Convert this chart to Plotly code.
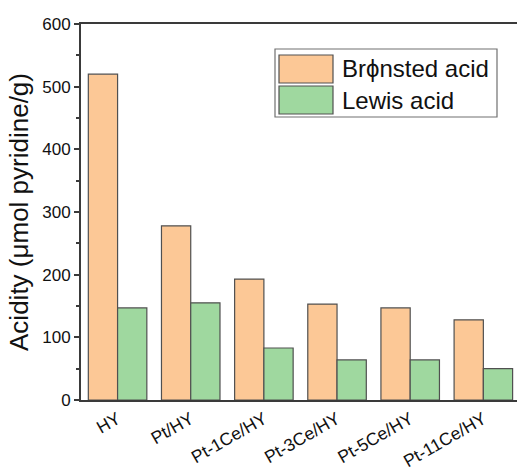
import plotly.graph_objects as go

# Acid site amounts per catalyst (µmol pyridine / g)
catalysts = ["HY", "Pt/HY", "Pt-1Ce/HY", "Pt-3Ce/HY", "Pt-5Ce/HY", "Pt-11Ce/HY"]
bronsted = [520, 278, 193, 153, 147, 128]
lewis = [147, 155, 83, 64, 64, 50]
series_names = ["Brϕnsted acid", "Lewis acid"]
y_ticks = [0, 100, 200, 300, 400, 500, 600]

FONT = "Liberation Sans, Arial, sans-serif"
COL_B = "#FCC896"
COL_L = "#9FD89F"
EDGE = "#505050"

fig = go.Figure()
for name, vals, col in [(series_names[0], bronsted, COL_B), (series_names[1], lewis, COL_L)]:
    fig.add_trace(go.Bar(
        x=catalysts, y=vals, name=name,
        marker=dict(color=col, line=dict(color=EDGE, width=1.2)),
        showlegend=False,
    ))

fig.update_layout(
    width=518, height=471,
    margin=dict(l=81, r=1, t=24, b=71),
    paper_bgcolor="white", plot_bgcolor="white",
    barmode="group", bargap=0.2, bargroupgap=0,
    font=dict(family=FONT, color="#111", size=17),
)

fig.update_xaxes(
    range=[-0.5, 5.46], automargin=False,
    showline=True, linecolor="#3a3a3a", linewidth=2, mirror=True,
    ticks="", tickangle=-30, tickfont=dict(size=17.5),
    showgrid=False,
)
fig.update_yaxes(
    range=[0, 600], tickvals=y_ticks, automargin=False,
    showline=True, linecolor="#3a3a3a", linewidth=2,
    ticks="outside", ticklen=5, tickwidth=2, tickcolor="#3a3a3a",
    minor=dict(dtick=50, ticks="outside", ticklen=3, tickwidth=2, tickcolor="#3a3a3a"),
    tickfont=dict(size=17),
    title=dict(text="Acidity (μmol pyridine/g)", font=dict(size=26), standoff=6),
    showgrid=False, zeroline=False,
)

# Legend box drawn with shapes and text
fig.add_shape(type="rect", xref="paper", yref="paper",
              x0=(275 - 81) / 436, x1=(497 - 81) / 436,
              y0=(400 - 117) / 376, y1=(400 - 49) / 376,
              line=dict(color="#707070", width=1.2), fillcolor="white")
for i, (name, col) in enumerate(zip(series_names, [COL_B, COL_L])):
    top = 55 + i * 31
    fig.add_shape(type="rect", xref="paper", yref="paper",
                  x0=(279 - 81) / 436, x1=(333 - 81) / 436,
                  y0=(400 - (top + 28)) / 376, y1=(400 - top) / 376,
                  line=dict(color=EDGE, width=1.2), fillcolor=col)
    fig.add_annotation(xref="paper", yref="paper",
                       x=(340 - 81) / 436, y=(400 - (top + 14)) / 376,
                       text=name, showarrow=False, xanchor="left", yanchor="middle",
                       font=dict(size=24, family=FONT, color="#111"))

fig.write_html("out.html")
